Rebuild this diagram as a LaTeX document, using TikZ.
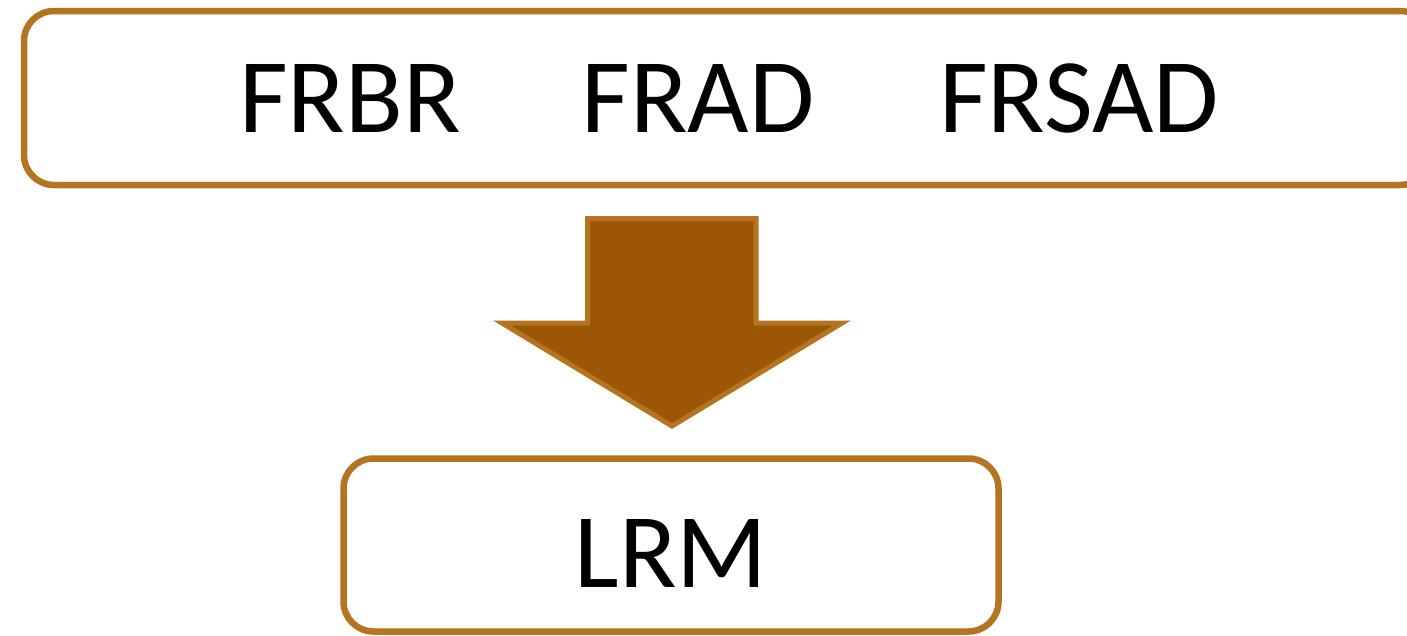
\documentclass[tikz,border=0pt]{standalone}
\usepackage{fontspec}
\setmainfont{Carlito}
\definecolor{edgebrown}{HTML}{B5741F}
\definecolor{fillbrown}{HTML}{9C5706}
\tikzset{
  roundbox/.style={draw=edgebrown, line width=6.5pt, rounded corners=30pt, fill=white, inner sep=0pt},
  bigtext/.style={font=\fontsize{106}{120}\selectfont, anchor=base, inner sep=0pt, text=black},
  blockarrow/.style={draw=edgebrown, fill=fillbrown, line width=5pt, line join=miter}
}
\begin{document}
\begin{tikzpicture}[x=1pt,y=-1pt]
\clip (0,0) rectangle (1407,635);
\fill[white] (0,0) rectangle (1407,635);
\node[roundbox, minimum width=1406pt, minimum height=174pt] (top) at (727,98) {};
\node[bigtext] (frbr) at (350,132) {FRBR};
\node[bigtext] (frad) at (698,132) {FRAD};
\node[bigtext] (frsad) at (1079,132) {FRSAD};
\node[roundbox, minimum width=655pt, minimum height=173pt] (lrm) at (671,545) {};
\node[bigtext] (lrmtext) at (671,587) {LRM};
\draw[blockarrow] (587.5,218.5) -- (756,218.5) -- (756,323) -- (842,323) -- (672,426) -- (502,323) -- (587.5,323) -- cycle;
\end{tikzpicture}
\end{document}
